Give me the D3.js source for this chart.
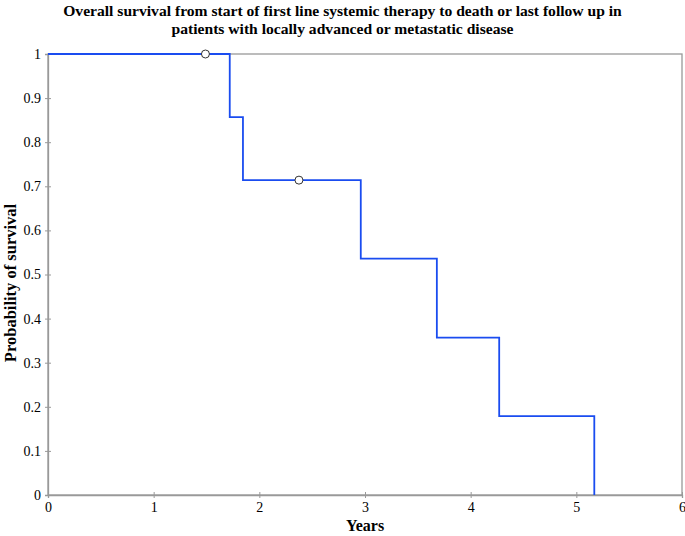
<!DOCTYPE html>
<html lang="en">
<head>
<meta charset="UTF-8" />
<title>Overall survival</title>
<script src="https://d3js.org/d3.v7.min.js"></script>
<style>
  body { margin: 0; background: #fff; }
  svg text { font-family: "Liberation Serif", "Times New Roman", serif; }
</style>
</head>
<body>
<div id="chart"></div>
<script>
// survival steps: time at which each level starts, and the level
var stepTimes = [0, 1.72, 1.845, 2.96, 3.68, 4.27, 5.17];
var stepSurv  = [1, 0.857, 0.714, 0.536, 0.357, 0.179, 0];
// censored observations
var censorTimes = [1.49, 2.375];
var censorSurv  = [1, 0.714];
var xTicks = [0, 1, 2, 3, 4, 5, 6];
var yTicks = [0, 0.1, 0.2, 0.3, 0.4, 0.5, 0.6, 0.7, 0.8, 0.9, 1];

var W = 685, H = 536;
var margin = {top: 54, right: 3, bottom: 41, left: 48};
var width = W - margin.left - margin.right,
    height = H - margin.top - margin.bottom;

var svg = d3.select("#chart").append("svg")
    .attr("width", W).attr("height", H);

var g = svg.append("g")
    .attr("transform", "translate(" + margin.left + "," + margin.top + ")");

var x = d3.scaleLinear().domain([0, 6]).range([0, width]);
var y = d3.scaleLinear().domain([0, 1]).range([height, 0]);

// frame
g.append("rect")
    .attr("width", width).attr("height", height)
    .attr("fill", "none").attr("stroke", "#999").attr("stroke-width", 1.3);

// axes
var xAxis = g.append("g")
    .attr("transform", "translate(0," + height + ")")
    .call(d3.axisBottom(x).tickValues(xTicks).tickSize(3).tickFormat(d3.format("d")));
var yAxis = g.append("g")
    .call(d3.axisLeft(y).tickValues(yTicks).tickSize(3).tickFormat(function(d) { return String(+d.toFixed(1)); }));

[xAxis, yAxis].forEach(function(a) {
  a.attr("font-size", null).attr("font-family", null);
  a.select(".domain").attr("stroke", "#999").attr("stroke-width", 1.3);
  a.selectAll(".tick line").attr("stroke", "#999");
  a.selectAll("text").style("font-size", "14px").attr("fill", "#000");
});
// ticks cross the axis line
xAxis.selectAll(".tick line").attr("y1", -3).attr("y2", 3);
yAxis.selectAll(".tick line").attr("x1", -3).attr("x2", 3);
xAxis.selectAll("text").attr("y", 6).attr("dy", "0.8em");
yAxis.selectAll("text").attr("x", -7);

// step line
var pts = [];
for (var i = 0; i < stepTimes.length; i++) {
  if (i > 0) pts.push([stepTimes[i], stepSurv[i - 1]]);
  pts.push([stepTimes[i], stepSurv[i]]);
}
var line = d3.line().x(function(d) { return x(d[0]); }).y(function(d) { return y(d[1]); });
g.append("path")
    .datum(pts)
    .attr("d", line)
    .attr("fill", "none")
    .attr("stroke", "#1a4cf0")
    .attr("stroke-width", 1.8);

// censor marks
g.selectAll(".censor")
  .data(censorTimes)
  .enter()
  .append("circle")
    .attr("cx", function(d) { return x(d); })
    .attr("cy", function(d, i) { return y(censorSurv[i]); })
    .attr("r", 4)
    .attr("fill", "#fff")
    .attr("stroke", "#333")
    .attr("stroke-width", 1);

// title
var title = svg.append("text")
    .attr("text-anchor", "middle")
    .attr("font-weight", "bold").style("font-size", "15.6px");
title.append("tspan").attr("x", W / 2).attr("y", 16)
    .text("Overall survival from start of first line systemic therapy to death or last follow up in");
title.append("tspan").attr("x", W / 2).attr("y", 34)
    .text("patients with locally advanced or metastatic disease");

// axis labels
svg.append("text")
    .attr("x", margin.left + width / 2).attr("y", 531)
    .attr("text-anchor", "middle").attr("font-weight", "bold").style("font-size", "16px")
    .text("Years");
svg.append("text")
    .attr("transform", "translate(16," + 283 + ") rotate(-90)")
    .attr("text-anchor", "middle").attr("font-weight", "bold").style("font-size", "16.5px")
    .text("Probability of survival");
</script>
</body>
</html>
